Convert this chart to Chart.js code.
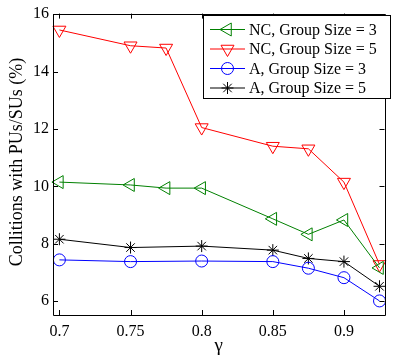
<!DOCTYPE html>
<html>
<head>
<meta charset="utf-8">
<script src="https://cdn.jsdelivr.net/npm/chart.js@4.4.0/dist/chart.umd.min.js"></script>
<style>
  html, body { margin: 0; padding: 0; background: #fff; }
  #wrap { width: 393px; height: 362px; }
</style>
</head>
<body>
<div id="wrap"><canvas id="c" width="393" height="362"></canvas></div>
<script>
// gamma values on the x axis
const gammaVals = [0.7, 0.75, 0.775, 0.8, 0.85, 0.875, 0.9, 0.925];

// collisions (%) per scheme
const nc3 = [10.15, 10.05, 9.94, 9.94, 8.87, 8.33, 8.83, 7.16];
const nc5 = [15.45, 14.9, 14.82, 12.05, 11.4, 11.31, 10.15, 7.28];
const a3 = [7.44, 7.38, null, 7.4, 7.38, 7.15, 6.82, 6.01];
const a5 = [8.16, 7.87, null, 7.92, 7.78, 7.49, 7.38, 6.52];

const xTicks = [0.7, 0.75, 0.8, 0.85, 0.9];
const yTicks = [6, 8, 10, 12, 14, 16];

const seriesNames = ['NC, Group Size = 3', 'NC, Group Size = 5', 'A, Group Size = 3', 'A, Group Size = 5'];

const FONT = '"Liberation Serif", "Times New Roman", serif';

const toPts = (vals) => gammaVals.map((g, i) => ({ x: g, y: vals[i] })).filter(p => p.y !== null);

const styles = [
    { color: 'rgb(0,128,0)', pointStyle: 'triangle', radius: 7.5, rotation: -90 },
    { color: 'rgb(255,0,0)', pointStyle: 'triangle', radius: 7.5, rotation: 180 },
    { color: 'rgb(0,0,255)', pointStyle: 'circle', radius: 6, rotation: 0 },
    { color: 'rgb(0,0,0)', pointStyle: 'star', radius: 6, rotation: 0 }
];
const allData = [nc3, nc5, a3, a5];

const datasets = allData.map((vals, i) => ({
    label: seriesNames[i],
    data: toPts(vals),
    borderColor: styles[i].color,
    backgroundColor: 'transparent',
    borderWidth: 1,
    pointStyle: styles[i].pointStyle,
    pointRadius: styles[i].radius,
    pointRotation: styles[i].rotation,
    pointBorderColor: styles[i].color,
    pointBackgroundColor: 'transparent',
    pointBorderWidth: 1,
    tension: 0,
    clip: 10
}));

// box, inward ticks, labels and the legend, matlab style
const boxPlugin = {
    id: 'matlabBox',
    afterDraw(chart) {
        const ctx = chart.ctx;
        const a = chart.chartArea;
        const xs = chart.scales.x, ys = chart.scales.y;
        ctx.save();
        ctx.strokeStyle = '#000';
        ctx.lineWidth = 1;
        ctx.beginPath();
        ctx.rect(Math.round(a.left) + 0.5, Math.round(a.top) + 0.5, Math.round(a.right - a.left), Math.round(a.bottom - a.top));
        ctx.stroke();

        const tl = 5;
        ctx.beginPath();
        xTicks.forEach(v => {
            const px = Math.round(xs.getPixelForValue(v)) + 0.5;
            ctx.moveTo(px, a.bottom); ctx.lineTo(px, a.bottom - tl);
            ctx.moveTo(px, a.top); ctx.lineTo(px, a.top + tl);
        });
        yTicks.forEach(v => {
            const py = Math.round(ys.getPixelForValue(v)) + 0.5;
            ctx.moveTo(a.left, py); ctx.lineTo(a.left + tl, py);
            ctx.moveTo(a.right, py); ctx.lineTo(a.right - tl, py);
        });
        ctx.stroke();

        // axis titles
        ctx.fillStyle = '#000';
        ctx.textAlign = 'center';
        ctx.textBaseline = 'middle';
        ctx.font = '19px ' + FONT;
        ctx.fillText('γ', (a.left + a.right) / 2, 346);
        ctx.font = '18px ' + FONT;
        ctx.save();
        ctx.translate(17, 162);
        ctx.rotate(-Math.PI / 2);
        ctx.fillText('Collitions with PUs/SUs (%)', 0, 0);
        ctx.restore();

        // legend
        const lx = 203.5, ly = 15.5, lw = 187, lh = 83;
        ctx.fillStyle = '#fff';
        ctx.fillRect(lx, ly, lw, lh);
        ctx.strokeStyle = '#000';
        ctx.strokeRect(lx, ly, lw, lh);
        ctx.font = '16px ' + FONT;
        ctx.textAlign = 'left';
        seriesNames.forEach((name, i) => {
            const y = 29.5 + i * 19.5;
            const s = styles[i];
            ctx.strokeStyle = s.color;
            ctx.lineWidth = 1;
            ctx.beginPath();
            ctx.moveTo(210, y); ctx.lineTo(245, y);
            ctx.stroke();
            ctx.fillStyle = 'rgba(0,0,0,0)';
            Chart.helpers.drawPoint(ctx, {
                pointStyle: s.pointStyle, radius: s.radius, rotation: s.rotation, borderWidth: 1
            }, 227.5, y);
            ctx.fillStyle = '#000';
            ctx.fillText(name, 249, y + 1);
        });
        ctx.restore();
    }
};

new Chart(document.getElementById('c'), {
    type: 'line',
    data: { datasets },
    options: {
        responsive: false,
        animation: false,
        layout: { padding: { top: 10, right: 2, left: 0, bottom: 0 } },
        plugins: { legend: { display: false }, tooltip: { enabled: false } },
        scales: {
            x: {
                type: 'linear',
                min: 0.6955,
                max: 0.9285,
                afterBuildTicks: (s) => { s.ticks = xTicks.map(v => ({ value: v })); },
                afterFit: (s) => { s.height = 47; },
                grid: { display: false, drawTicks: false },
                border: { display: false },
                ticks: {
                    padding: 7,
                    color: '#000',
                    font: { family: FONT, size: 16 },
                    maxRotation: 0,
                    callback: (v) => String(v)
                }
            },
            y: {
                type: 'linear',
                min: 5.52,
                max: 16.02,
                afterBuildTicks: (s) => { s.ticks = yTicks.map(v => ({ value: v })); },
                afterFit: (s) => { s.width = 53; },
                grid: { display: false, drawTicks: false },
                border: { display: false },
                ticks: {
                    padding: 4,
                    color: '#000',
                    font: { family: FONT, size: 16 },
                    callback: (v) => String(v)
                }
            }
        }
    },
    plugins: [boxPlugin]
});
</script>
</body>
</html>
